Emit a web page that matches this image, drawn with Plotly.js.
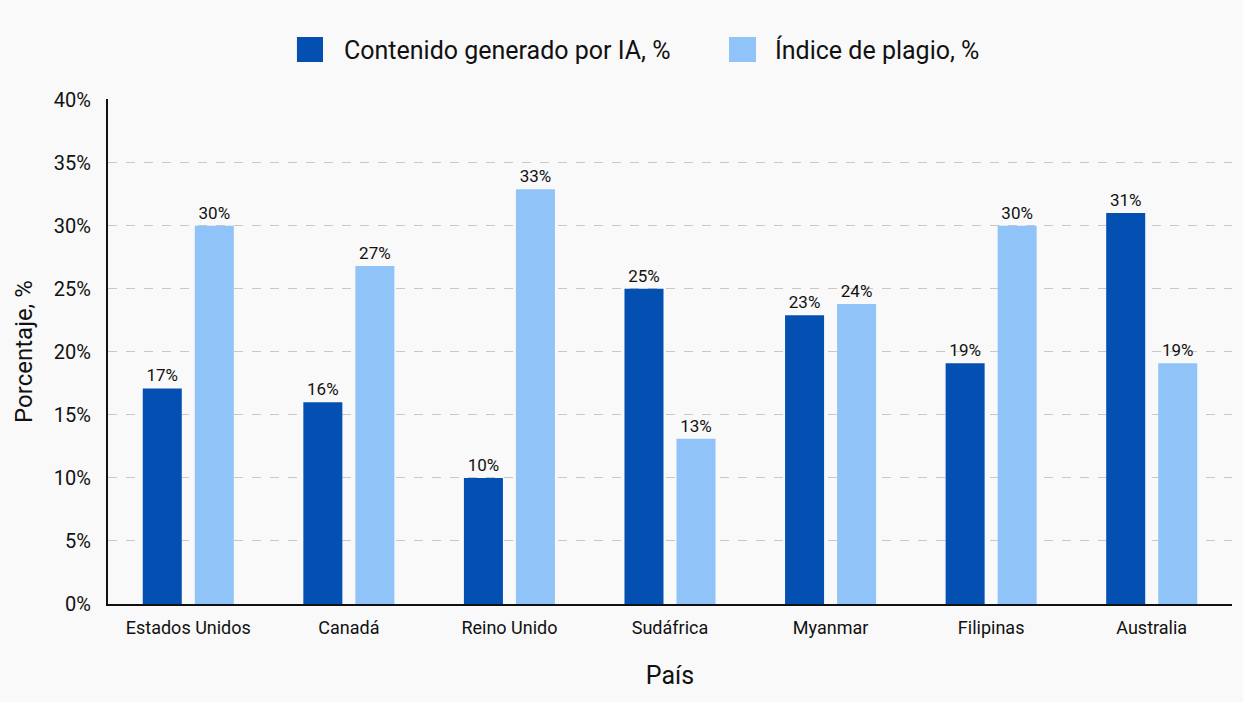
<!DOCTYPE html>
<html>
<head>
<meta charset="utf-8">
<script src="https://cdn.plot.ly/plotly-3.0.1.min.js"></script>
<style>
html,body{margin:0;padding:0;background:#f9f9f9;}
#chart{width:1243px;height:702px;}
</style>
</head>
<body>
<div id="chart"></div>
<script>
const categories = ["Estados Unidos", "Canadá", "Reino Unido", "Sudáfrica", "Myanmar", "Filipinas", "Australia"];
const aiContent = [17.1, 16.0, 10.0, 25.0, 22.9, 19.1, 31.0];
const plagiarism = [30.0, 26.8, 32.9, 13.1, 23.8, 30.0, 19.1];
const seriesNames = ["Contenido generado por IA, %", "Índice de plagio, %"];
const seriesColors = ["#0450b2", "#90c4f8"];
const yTickVals = [0, 5, 10, 15, 20, 25, 30, 35, 40];
const yTickText = ["0%", "5%", "10%", "15%", "20%", "25%", "30%", "35%", "40%"];

const fontFam = "Roboto, 'Noto Sans', sans-serif";
const fmt = v => Math.round(v) + "%";

const traces = [aiContent, plagiarism].map((vals, i) => ({
  type: "bar", name: seriesNames[i], x: categories, y: vals,
  marker: {color: seriesColors[i]},
  text: vals.map(fmt), textposition: "outside", cliponaxis: false,
  textfont: {family: fontFam, size: 17, color: "#111"}, hoverinfo: "x+y",
  showlegend: false
}));

// Custom legend (larger swatches than Plotly's built-in legend allows)
const legendSwatchX = [[0.1681, 0.1913], [0.5525, 0.5765]];
const legendTextX = [0.2082, 0.5916];
const shapes = seriesNames.map((n, i) => ({
  type: "rect", xref: "paper", yref: "paper",
  x0: legendSwatchX[i][0], x1: legendSwatchX[i][1], y0: 1.0733, y1: 1.1228,
  fillcolor: seriesColors[i], line: {width: 0}
}));
const annotations = seriesNames.map((n, i) => ({
  text: n, xref: "paper", yref: "paper", x: legendTextX[i], y: 1.097,
  xanchor: "left", yanchor: "middle", showarrow: false,
  font: {family: fontFam, size: 25, color: "#111"}
}));

const layout = {
  width: 1243, height: 702,
  paper_bgcolor: "#f9f9f9", plot_bgcolor: "#f9f9f9",
  margin: {l: 108, r: 11, t: 99, b: 98},
  font: {family: fontFam, color: "#111"},
  barmode: "group", bargap: 0.352, bargroupgap: 0.25,
  showlegend: false,
  shapes: shapes, annotations: annotations,
  xaxis: {
    title: {text: "País", font: {size: 25, family: fontFam, color: "#111"}, standoff: 30},
    tickfont: {size: 18, family: fontFam, color: "#111"},
    showline: true, linecolor: "#111", linewidth: 2,
    ticks: "outside", ticklen: 6, tickcolor: "rgba(0,0,0,0)", showgrid: false, automargin: false
  },
  yaxis: {
    title: {text: "Porcentaje, %", font: {size: 24, family: fontFam, color: "#111"}, standoff: 14},
    range: [0, 40.05], tickvals: yTickVals, ticktext: yTickText,
    tickfont: {size: 20, family: fontFam, color: "#111"},
    showline: true, linecolor: "#111", linewidth: 2,
    showgrid: true, gridcolor: "#c8c8c8", griddash: "dash", gridwidth: 1,
    zeroline: false, ticks: "outside", ticklen: 11, tickcolor: "rgba(0,0,0,0)", automargin: false
  }
};

Plotly.newPlot("chart", traces, layout, {displayModeBar: false, staticPlot: true});
</script>
</body>
</html>
